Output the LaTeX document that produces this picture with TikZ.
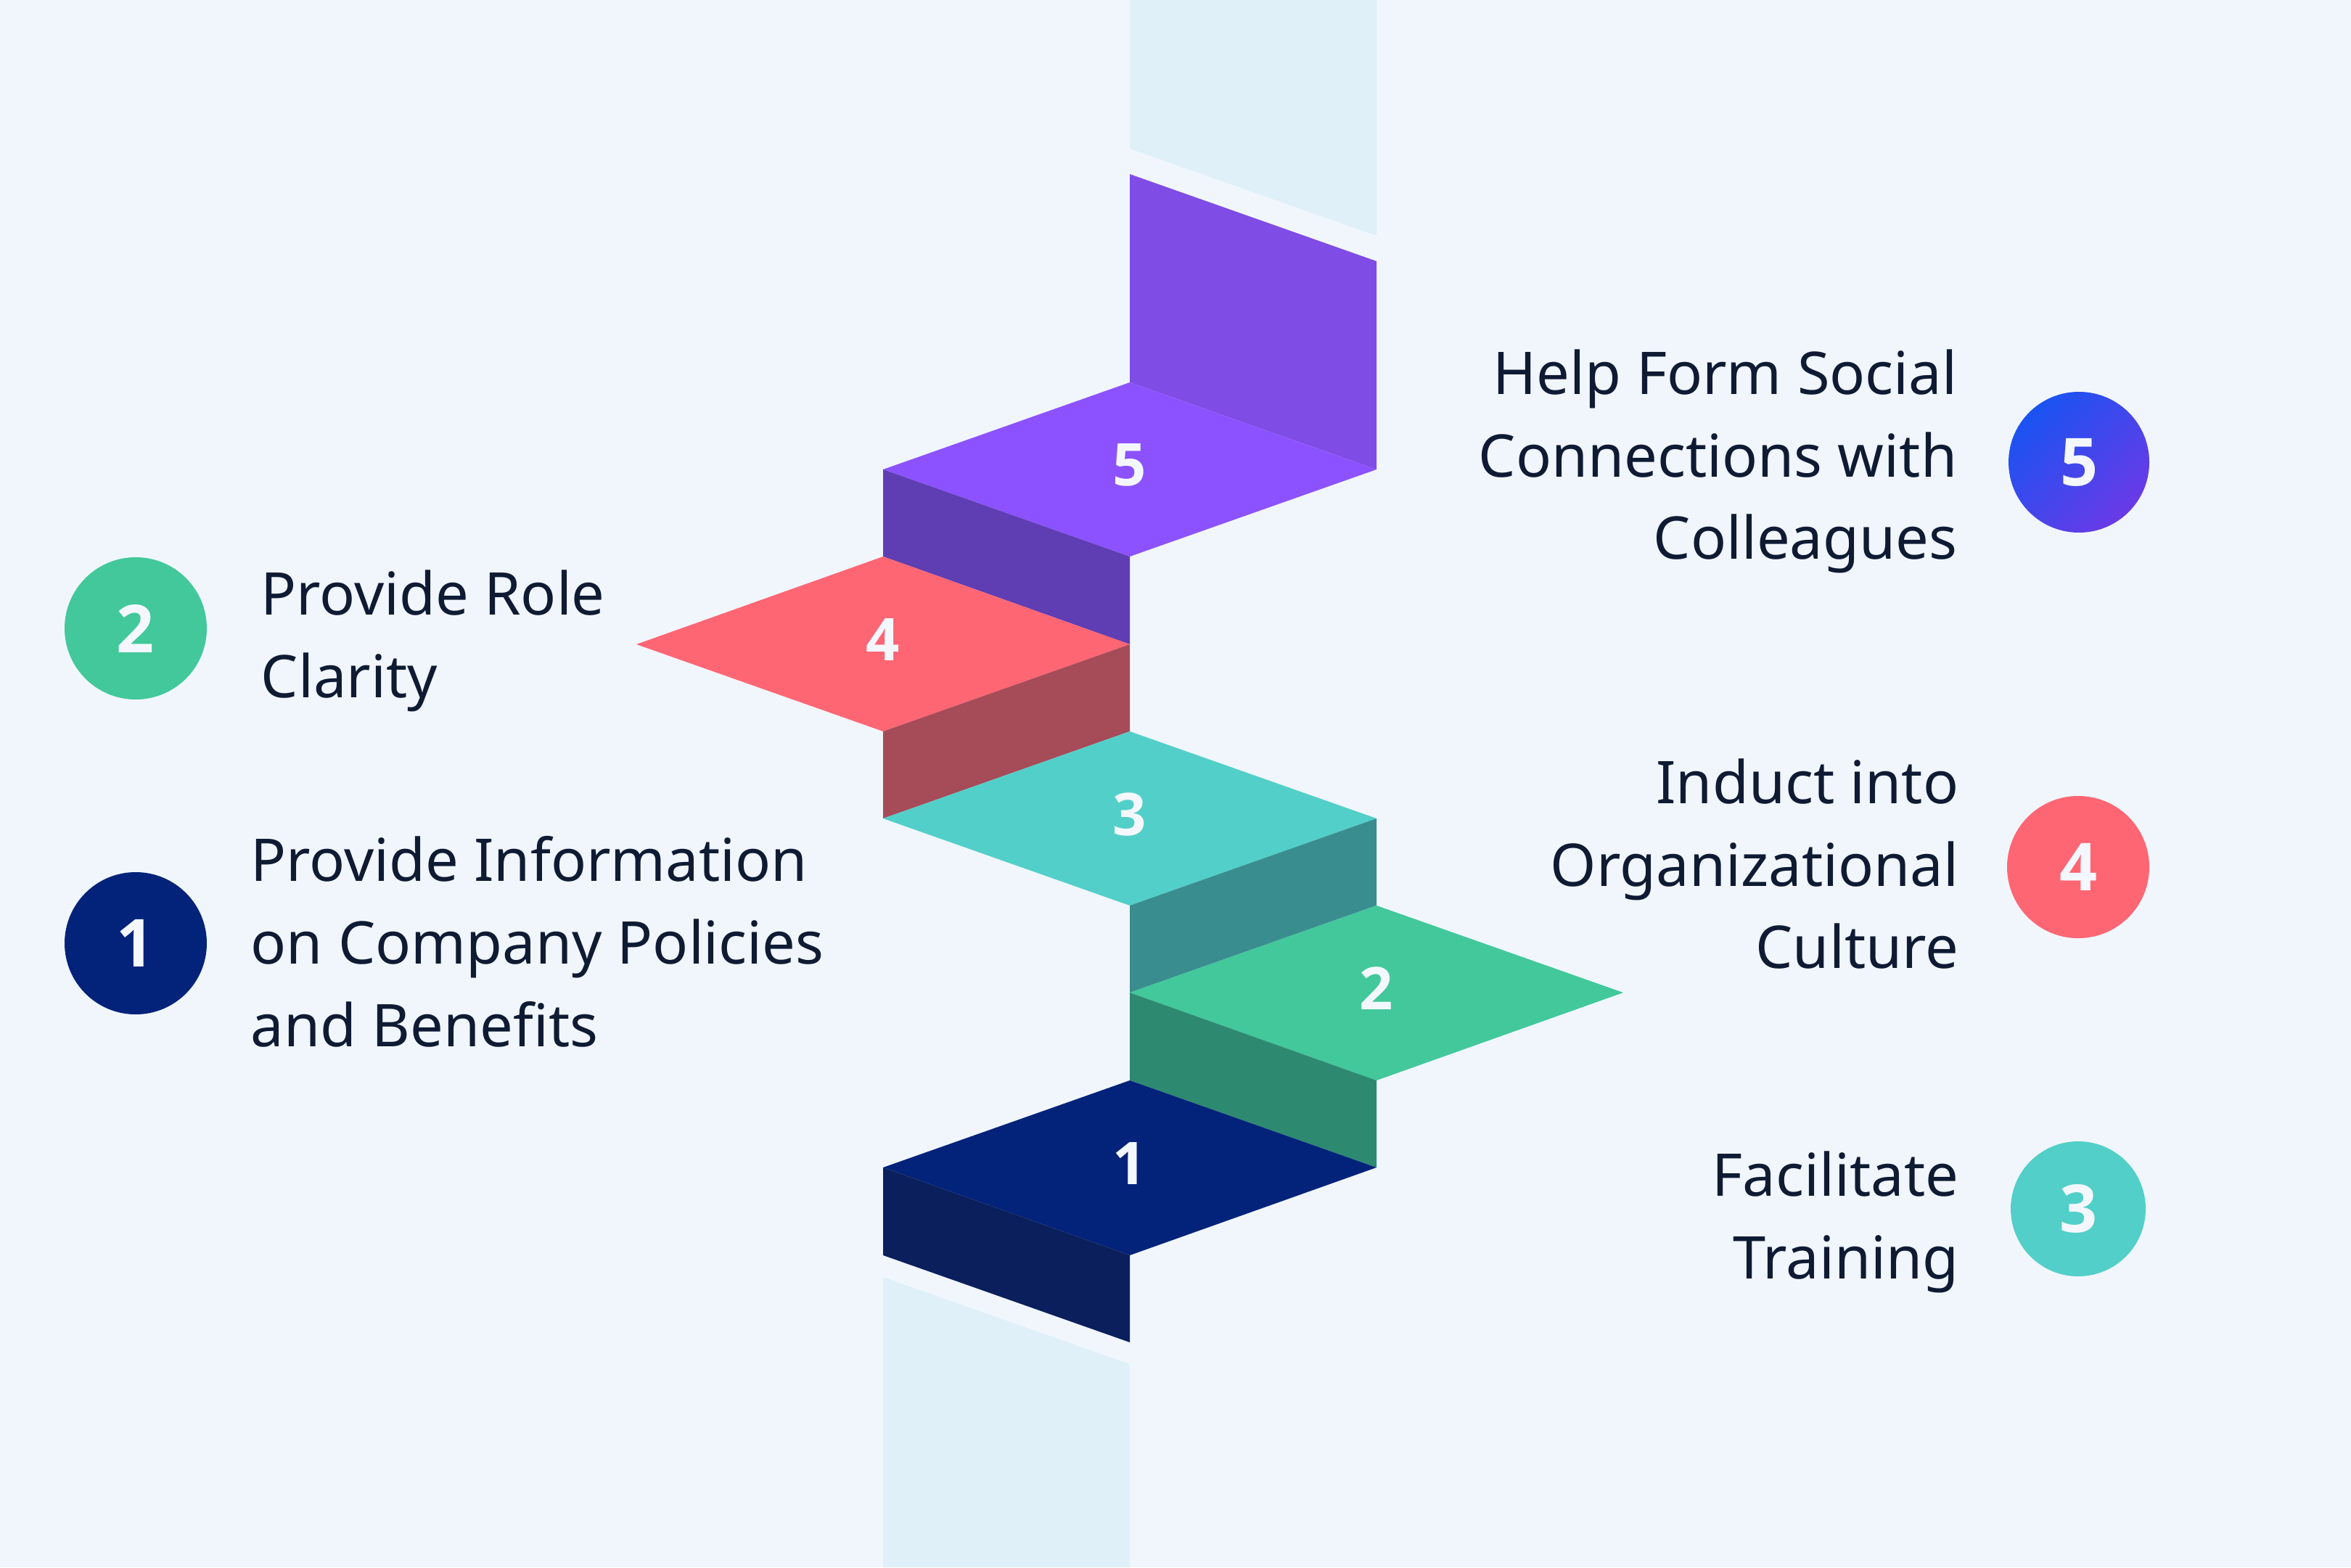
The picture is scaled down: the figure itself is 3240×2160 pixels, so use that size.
\documentclass[tikz,border=0pt]{standalone}
\usepackage{fontspec}
\setmainfont{Noto Sans}
\newfontfamily\numfont{Open Sans}
\definecolor{bg}{HTML}{F1F6FD}
\definecolor{pale}{HTML}{E0F0F8}
\definecolor{ink}{HTML}{0F1A33}
\definecolor{numwhite}{HTML}{F4F8FE}
\definecolor{purpleT}{HTML}{8C52FF}
\definecolor{purpleW}{HTML}{7F4CE5}
\definecolor{purpleR}{HTML}{5F3DB3}
\definecolor{redT}{HTML}{FF6673}
\definecolor{redR}{HTML}{A64B58}
\definecolor{tealT}{HTML}{52CFC9}
\definecolor{tealR}{HTML}{3A8D8E}
\definecolor{greenT}{HTML}{42C89B}
\definecolor{greenR}{HTML}{2D8A70}
\definecolor{navyT}{HTML}{03237A}
\definecolor{navyR}{HTML}{0A1F5C}
\definecolor{blueA}{HTML}{1A53F2}
\definecolor{blueB}{HTML}{6A3AE6}
\begin{document}
\begin{tikzpicture}[x=0.25pt,y=-0.25pt,
  treadnum/.style={text=numwhite,font=\numfont\bfseries\fontsize{20.3pt}{20.3pt}\selectfont,inner sep=0pt},
  circnum/.style={text=numwhite,font=\numfont\bfseries\fontsize{22.8pt}{22.8pt}\selectfont,inner sep=0pt},
  badge/.style={circle,minimum size=49pt,inner sep=0pt},
  lbl/.style={text=ink,font=\fontsize{20.3pt}{28.4pt}\selectfont,inner sep=0pt}]
\useasboundingbox (0,0) rectangle (3240,2160);
\fill[bg] (0,0) rectangle (3240,2160);
% pale columns
\fill[pale] (1557,0)--(1897,0)--(1897,325)--(1557,205)--cycle;
\fill[pale] (1217,1760)--(1557,1880)--(1557,2160)--(1217,2160)--cycle;
% step 5
\fill[purpleW] (1557,240)--(1897,360)--(1897,647)--(1557,527)--cycle;
\fill[purpleT] (1557,527)--(1897,647)--(1557,767)--(1217,647)--cycle;
\fill[purpleR] (1217,647)--(1557,767)--(1557,888)--(1217,767)--cycle;
% step 4
\fill[redT] (1217,767)--(1557,888)--(1217,1008)--(877,888)--cycle;
\fill[redR] (1557,888)--(1557,1008)--(1217,1128)--(1217,1008)--cycle;
% step 3
\fill[tealT] (1557,1008)--(1897,1128)--(1557,1248)--(1217,1128)--cycle;
\fill[tealR] (1897,1128)--(1897,1248)--(1557,1368)--(1557,1248)--cycle;
% step 2
\fill[greenT] (1897,1248)--(2237,1368)--(1897,1489)--(1557,1368)--cycle;
\fill[greenR] (1557,1368)--(1897,1489)--(1897,1609)--(1557,1489)--cycle;
% step 1
\fill[navyT] (1557,1489)--(1897,1609)--(1557,1730)--(1217,1609)--cycle;
\fill[navyR] (1217,1609)--(1557,1730)--(1557,1850)--(1217,1730)--cycle;
% tread numbers
\node[treadnum] (t5) at (1557,641) {5};
\node[treadnum] (t4) at (1217,882) {4};
\node[treadnum] (t3) at (1557,1122) {3};
\node[treadnum] (t2) at (1897,1362) {2};
\node[treadnum] (t1) at (1557,1603) {1};
% badges
\node[badge,fill=navyT] (b1) at (187,1300) {};
\node[circnum] at (b1) {1};
\node[badge,fill=greenT] (b2) at (187,866) {};
\node[circnum] at (b2) {2};
\node[badge,fill=tealT,minimum size=46.5pt] (b3) at (2864,1666) {};
\node[circnum] at (b3) {3};
\node[badge,fill=redT] (b4) at (2864,1195) {};
\node[circnum] at (b4) {4};
\shade[top color=blueA,bottom color=blueB,shading angle=45] (2865,637) circle[radius=97];
\node[badge] (b5) at (2865,637) {};
\node[circnum] at (b5) {5};
% labels
\node[lbl,anchor=north west,align=left] (l1) at (345,1152) {Provide Information\\on Company Policies\\and Benefits};
\node[lbl,anchor=north west,align=left] (l2) at (359,785) {Provide Role\\Clarity};
\node[lbl,anchor=north east,align=right] (l5) at (2698,481) {Help Form Social\\Connections with\\Colleagues};
\node[lbl,anchor=north east,align=right] (l4) at (2700,1045) {Induct into\\Organizational\\Culture};
\node[lbl,anchor=north east,align=right] (l3) at (2700,1586) {Facilitate\\Training};
\end{tikzpicture}
\end{document}
